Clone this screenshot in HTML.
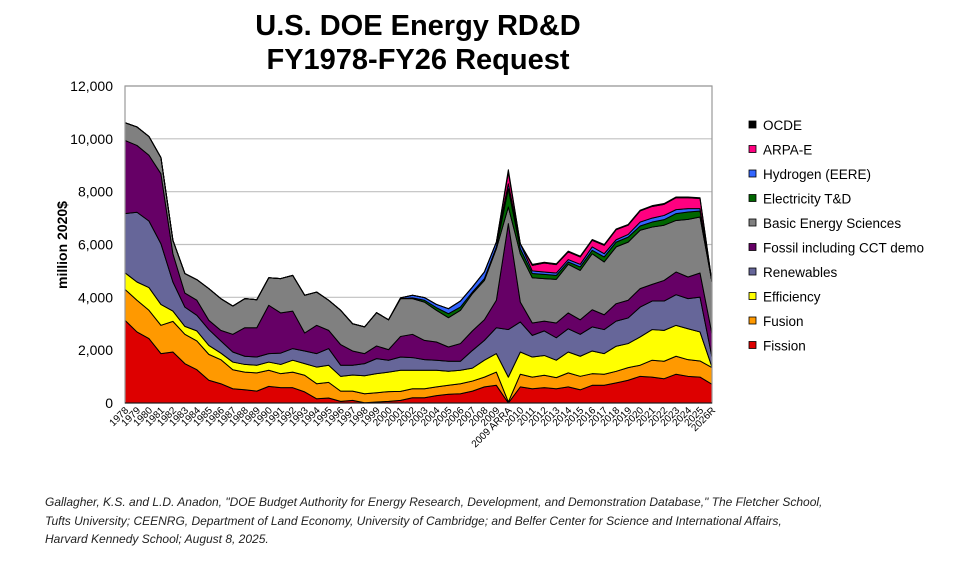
<!DOCTYPE html>
<html><head><meta charset="utf-8"><style>
body{margin:0;background:#fff;font-family:"Liberation Sans",sans-serif}
#wrap{position:relative;width:961px;height:573px;overflow:hidden}
.fn{position:absolute;left:45px;font-style:italic;font-size:12px;line-height:18.5px;color:#222}
</style></head><body>
<div id="wrap">
<svg id="c" width="961" height="573"></svg>
<div class="fn" style="top:493px">Gallagher, K.S. and L.D. Anadon, "DOE Budget Authority for Energy Research, Development, and Demonstration Database," The Fletcher School,<br>Tufts University; CEENRG, Department of Land Economy, University of Cambridge; and Belfer Center for Science and International Affairs,<br>Harvard Kennedy School; August 8, 2025.</div>
</div>
<script>
const categories=["1978","1979","1980","1981","1982","1983","1984","1985","1986","1987","1988","1989","1990","1991","1992","1993","1994","1995","1996","1997","1998","1999","2000","2001","2002","2003","2004","2005","2006","2007","2008","2009","2009 ARRA","2010","2011","2012","2013","2014","2015","2016","2017","2018","2019","2020","2021","2022","2023","2024","2025","2026R"];
const fission=[3130,2690,2440,1870,1930,1490,1260,860,730,540,500,450,630,580,580,420,160,190,60,100,10,40,60,100,200,200,280,330,350,450,610,670,0,610,540,580,540,610,500,670,670,760,860,1010,980,920,1090,1010,980,710];
const fusion=[1170,1200,1070,1070,1160,1110,1090,980,910,720,670,690,610,530,590,630,570,590,390,350,340,350,370,340,340,340,330,340,380,380,370,500,40,480,440,470,420,530,510,440,420,440,480,420,640,660,680,630,610,630];
const efficiency=[630,690,860,790,390,300,380,340,250,290,290,290,310,350,450,440,630,650,560,610,680,720,740,800,700,700,630,530,510,490,640,700,940,840,760,750,660,790,760,860,780,950,910,1070,1160,1170,1170,1170,1100,20];
const renewables=[2240,2640,2520,2300,1100,730,590,600,460,380,310,310,320,430,440,480,510,630,420,370,460,570,450,500,480,400,380,380,340,670,750,980,1800,1140,820,930,850,880,830,910,910,950,970,1130,1080,1110,1160,1140,1320,380];
const fossil=[2770,2530,2490,2650,1070,530,570,350,400,670,1080,1110,1830,1520,1420,680,1070,690,780,540,380,480,400,780,880,730,690,540,670,740,780,1040,4010,750,470,370,560,600,550,650,560,660,670,700,630,780,860,820,910,880];
const basicSci=[670,700,710,610,510,740,780,1200,1200,1070,1100,1060,1040,1300,1350,1430,1260,1140,1300,1030,1010,1260,1130,1430,1350,1450,1200,1110,1260,1410,1490,1950,630,1830,1710,1610,1650,1840,1870,2120,2000,2150,2200,2210,2170,2090,1950,2180,2120,1960];
const elecTD=[0,0,0,0,0,0,0,0,0,0,0,0,0,0,0,0,0,0,0,0,0,0,0,0,30,70,100,150,120,60,70,70,690,190,160,160,150,90,130,130,190,180,190,160,190,210,260,280,230,0];
const hydrogen=[0,0,0,0,0,0,0,0,0,0,0,0,0,0,0,0,0,0,0,0,0,0,0,30,100,100,120,190,230,190,250,180,190,190,100,90,90,90,100,130,120,90,100,150,150,160,150,130,90,0];
const arpae=[0,0,0,0,0,0,0,0,0,0,0,0,0,0,0,0,0,0,0,0,0,0,0,0,0,0,0,0,0,0,0,0,440,0,210,340,320,290,280,250,320,380,350,420,440,420,450,410,380,0];
const ocde=[0,0,0,0,0,0,0,0,0,0,0,0,0,0,0,0,0,0,0,0,0,0,0,0,0,0,0,0,0,0,0,0,90,0,40,30,30,30,30,30,30,30,30,30,30,30,30,30,30,0];
const yTicks=[0,2000,4000,6000,8000,10000,12000];
const seriesNames=["Fission","Fusion","Efficiency","Renewables","Fossil including CCT demo","Basic Energy Sciences","Electricity T&D","Hydrogen (EERE)","ARPA-E","OCDE"];
const seriesData=[fission,fusion,efficiency,renewables,fossil,basicSci,elecTD,hydrogen,arpae,ocde];
const colors=["#dd0000","#ff9900","#ffff00","#666699","#660066","#808080","#006600","#3366ff","#ff0080","#000000"];

const NS="http://www.w3.org/2000/svg";
const svg=document.getElementById('c');
const L=125,R=712,T=86,B=403,YMAX=12000;
const x=i=>L+i*(R-L)/(categories.length-1);
const y=v=>B-v/YMAX*(B-T);
function mk(t,a,p){const e=document.createElementNS(NS,t);for(const k in a)e.setAttribute(k,a[k]);(p||svg).appendChild(e);return e;}

const title=mk('text',{x:418,y:35,'text-anchor':'middle','font-size':29,'font-weight':'bold',fill:'#000'});


title.textContent='U.S. DOE Energy RD&D';
const title2=mk('text',{x:418,y:69,'text-anchor':'middle','font-size':29,'font-weight':'bold',fill:'#000'});


title2.textContent='FY1978-FY26 Request';

yTicks.forEach(v=>{
  if(v>0){const g=mk('line',{x1:L,x2:R,y1:y(v),y2:y(v),stroke:'#c0c0c0','stroke-width':1.2});
  
  }
  const t=mk('text',{x:113,y:y(v)+5,'text-anchor':'end','font-size':14,fill:'#000'});
  
  
  t.textContent=v.toLocaleString('en-US');
});
const yt=mk('text',{x:0,y:0,transform:'translate(67,245) rotate(-90)','text-anchor':'middle','font-size':14,'font-weight':'bold'});


yt.textContent='million 2020$';

const cum=categories.map(()=>0);
seriesData.forEach((s,k)=>{
  const lower=cum.slice();
  s.forEach((v,i)=>cum[i]+=v);
  let d='M'+categories.map((c,i)=>x(i)+','+y(cum[i])).join(' L');
  for(let i=categories.length-1;i>=0;i--)d+=' L'+x(i)+','+y(lower[i]);
  d+='Z';
  const p=mk('path',{d:d,fill:colors[k],stroke:'#000','stroke-width':1,'stroke-linejoin':'round'});
  
  
});
const fr=mk('rect',{x:L,y:T,width:R-L,height:B-T,fill:'none',stroke:'#999','stroke-width':1.2});


const ax=mk('line',{x1:L,x2:R,y1:B,y2:B,stroke:'#000','stroke-width':1});


categories.forEach((c,i)=>{
  const t=mk('text',{x:0,y:0,transform:`translate(${x(i)+4},${B+8}) rotate(-45)`,'text-anchor':'end','font-size':10,fill:'#000'});
  
  
  t.textContent=c;
});
for(let k=seriesNames.length-1;k>=0;k--){
  const yy=126+(seriesNames.length-1-k)*24.5;
  const g=mk('g',{});
  
  
  mk('rect',{x:749,y:yy-5,width:7,height:7,fill:colors[k],stroke:'#000','stroke-width':0.8},g);
  const t=mk('text',{x:763,y:yy+4,'font-size':13.5,fill:'#000'},g);
  t.textContent=seriesNames[k];
}
</script>
</body></html>
